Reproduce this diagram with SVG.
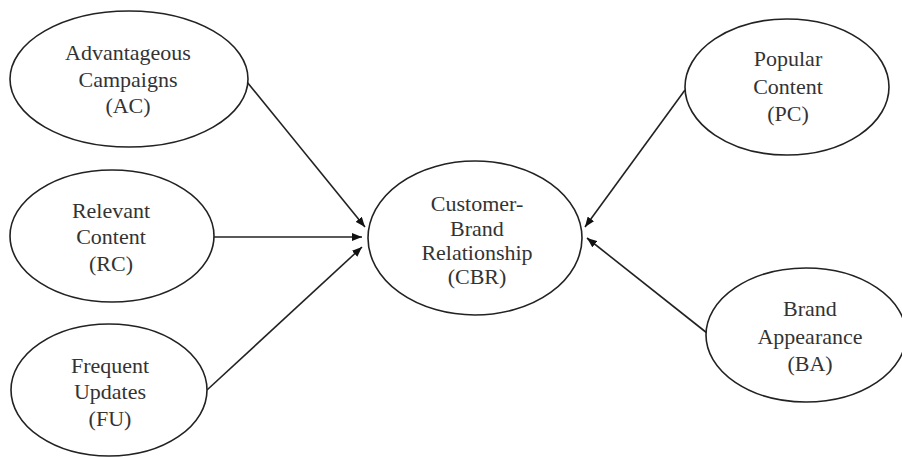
<svg xmlns="http://www.w3.org/2000/svg" width="902" height="457" viewBox="0 0 902 457">
<defs>
<style>
.node ellipse{fill:#fff;stroke:#222;stroke-width:1.6}
.node text{font-family:"Liberation Serif","Times New Roman",serif;font-size:22px;fill:#333;text-anchor:middle}
.edges line{stroke:#222;stroke-width:1.6;marker-end:url(#arr)}
</style>
<marker id="arr" viewBox="0 0 10 8" refX="10" refY="4" markerWidth="10" markerHeight="8" markerUnits="userSpaceOnUse" orient="auto">
<path d="M0,0 L10,4 L0,8 Z" fill="#111"/>
</marker>
</defs>
<rect width="902" height="457" fill="#fff"/>
<g class="edges">
<line x1="247" y1="82" x2="365" y2="227"/>
<line x1="213" y1="237" x2="362" y2="237"/>
<line x1="207" y1="390" x2="362" y2="247"/>
<line x1="685" y1="90" x2="585" y2="227"/>
<line x1="707" y1="333" x2="587" y2="238"/>
</g>
<g id="AC" class="node">
<ellipse cx="129" cy="79" rx="119" ry="68"/>
<text x="128" y="60">Advantageous</text>
<text x="128" y="87">Campaigns</text>
<text x="128" y="113">(AC)</text>
</g>
<g id="RC" class="node">
<ellipse cx="112" cy="236" rx="102" ry="66"/>
<text x="111" y="218">Relevant</text>
<text x="111" y="244">Content</text>
<text x="111" y="271">(RC)</text>
</g>
<g id="FU" class="node">
<ellipse cx="109" cy="390" rx="98" ry="66"/>
<text x="110" y="373">Frequent</text>
<text x="110" y="399">Updates</text>
<text x="110" y="426">(FU)</text>
</g>
<g id="CBR" class="node">
<ellipse cx="475" cy="238" rx="107" ry="77"/>
<text x="477" y="211">Customer-</text>
<text x="477" y="236">Brand</text>
<text x="477" y="260">Relationship</text>
<text x="477" y="284">(CBR)</text>
</g>
<g id="PC" class="node">
<ellipse cx="787" cy="87" rx="102" ry="68"/>
<text x="788" y="66">Popular</text>
<text x="788" y="94">Content</text>
<text x="788" y="121">(PC)</text>
</g>
<g id="BA" class="node">
<ellipse cx="806" cy="335" rx="100" ry="67"/>
<text x="810" y="316">Brand</text>
<text x="810" y="344">Appearance</text>
<text x="810" y="371">(BA)</text>
</g>
</svg>
